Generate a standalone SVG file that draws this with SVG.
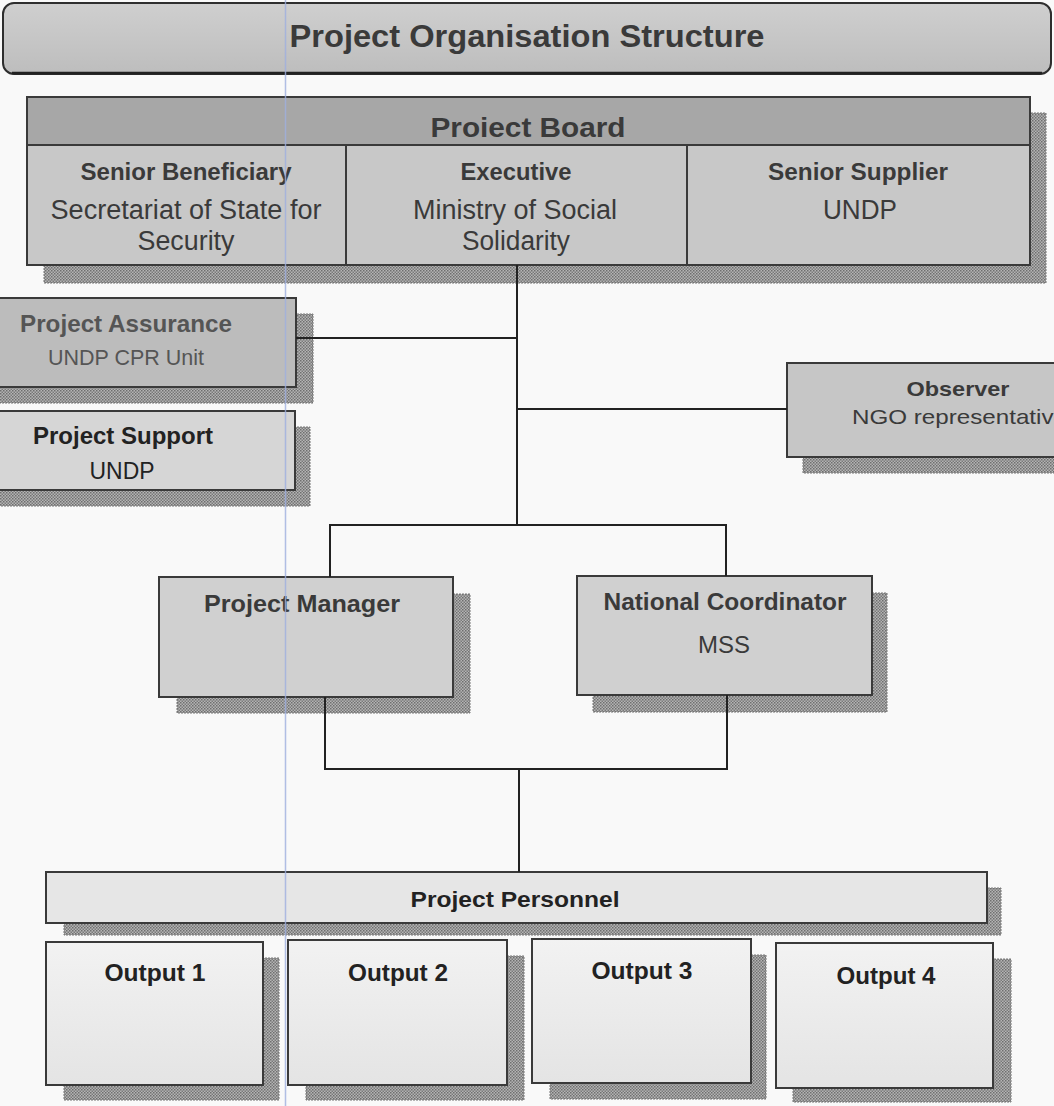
<svg xmlns="http://www.w3.org/2000/svg" width="1054" height="1106" viewBox="0 0 1054 1106">
  <defs>
    <pattern id="dots" width="3" height="3" patternUnits="userSpaceOnUse">
      <rect width="3" height="3" fill="#b4b4b4"/>
      <rect width="1.5" height="1.5" fill="#6e6e6e"/>
      <rect x="1.5" y="1.5" width="1.5" height="1.5" fill="#7a7a7a"/>
    </pattern>
    <linearGradient id="gTitle" x1="0" y1="0" x2="0" y2="1">
      <stop offset="0" stop-color="#cfcfcf"/>
      <stop offset="1" stop-color="#bdbdbd"/>
    </linearGradient>
    <linearGradient id="gOut" x1="0" y1="0" x2="0" y2="1">
      <stop offset="0" stop-color="#f2f2f2"/>
      <stop offset="1" stop-color="#e4e4e4"/>
    </linearGradient>
  </defs>
  <style>
    .t { font-family: "Liberation Sans", Arial, sans-serif; text-anchor: middle; fill: #3a3a3a; }
    .b { font-weight: bold; }
    .shadow { fill: url(#dots); stroke: #777; stroke-width: 1; stroke-dasharray: 2 1; }
    .box { stroke: #3a3a3a; stroke-width: 2; }
    .conn { fill: none; stroke: #222; stroke-width: 2; }
  </style>
  <rect width="1054" height="1106" fill="#f9f9f9"/>

  <g id="title">
    <rect x="3" y="3" width="1048" height="71" rx="11" fill="url(#gTitle)" stroke="#2e2e2e" stroke-width="2"/>
    <line x1="12" y1="73" x2="1042" y2="73" stroke="#222" stroke-width="2.5"/>
    <text class="t b" x="527" y="47" font-size="32" textLength="475" lengthAdjust="spacingAndGlyphs">Project Organisation Structure</text>
  </g>

  <g id="project-board">
    <rect class="shadow" x="44" y="113" width="1002" height="170"/>
    <rect class="box" x="27" y="97" width="1003" height="48" fill="#a7a7a7"/>
    <rect class="box" x="27" y="145" width="1003" height="120" fill="#c8c8c8"/>
    <line x1="346" y1="145" x2="346" y2="265" stroke="#3a3a3a" stroke-width="2"/>
    <line x1="687" y1="145" x2="687" y2="265" stroke="#3a3a3a" stroke-width="2"/>
    <text class="t b" x="528" y="137" font-size="27" textLength="195" lengthAdjust="spacingAndGlyphs">Proiect Board</text>
    <text class="t b" x="186" y="180" font-size="23" textLength="211" lengthAdjust="spacingAndGlyphs">Senior Beneficiary</text>
    <text class="t" x="186" y="219" font-size="27" textLength="271" lengthAdjust="spacingAndGlyphs">Secretariat of State for</text>
    <text class="t" x="186" y="250" font-size="27" textLength="97" lengthAdjust="spacingAndGlyphs">Security</text>
    <text class="t b" x="516" y="180" font-size="23" textLength="111" lengthAdjust="spacingAndGlyphs">Executive</text>
    <text class="t" x="515" y="219" font-size="27" textLength="204" lengthAdjust="spacingAndGlyphs">Ministry of Social</text>
    <text class="t" x="516" y="250" font-size="27" textLength="108" lengthAdjust="spacingAndGlyphs">Solidarity</text>
    <text class="t b" x="858" y="180" font-size="23" textLength="180" lengthAdjust="spacingAndGlyphs">Senior Supplier</text>
    <text class="t" x="860" y="219" font-size="27" textLength="74" lengthAdjust="spacingAndGlyphs">UNDP</text>
  </g>

  <g id="project-assurance">
    <rect class="shadow" x="-30" y="314" width="343" height="89"/>
    <rect class="box" x="-45" y="298" width="341" height="89" fill="#bcbcbc"/>
    <text class="t b" x="126" y="332" font-size="24" style="fill:#555" textLength="212" lengthAdjust="spacingAndGlyphs">Project Assurance</text>
    <text class="t" x="126" y="365" font-size="22" style="fill:#555" textLength="156" lengthAdjust="spacingAndGlyphs">UNDP CPR Unit</text>
  </g>

  <g id="project-support">
    <rect class="shadow" x="-30" y="427" width="340" height="79"/>
    <rect class="box" x="-45" y="411" width="340" height="79" fill="#d6d6d6"/>
    <text class="t b" x="123" y="444" font-size="23" style="fill:#222" textLength="180" lengthAdjust="spacingAndGlyphs">Project Support</text>
    <text class="t" x="122" y="479" font-size="23" style="fill:#222" textLength="65" lengthAdjust="spacingAndGlyphs">UNDP</text>
  </g>

  <g id="observer">
    <rect class="shadow" x="803" y="379" width="280" height="94"/>
    <rect class="box" x="787" y="363" width="280" height="94" fill="#c6c6c6"/>
    <text class="t b" x="958" y="396" font-size="21" textLength="103" lengthAdjust="spacingAndGlyphs">Observer</text>
    <text class="t" x="852" y="424" font-size="21" style="text-anchor:start" textLength="215" lengthAdjust="spacingAndGlyphs">NGO representative</text>
  </g>

  <g id="project-manager">
    <rect class="shadow" x="177" y="594" width="293" height="119"/>
    <rect class="box" x="159" y="577" width="294" height="120" fill="#d0d0d0"/>
    <text class="t b" x="302" y="612" font-size="24" textLength="196" lengthAdjust="spacingAndGlyphs">Project Manager</text>
  </g>

  <g id="national-coordinator">
    <rect class="shadow" x="593" y="593" width="294" height="119"/>
    <rect class="box" x="577" y="576" width="295" height="119" fill="#d0d0d0"/>
    <text class="t b" x="725" y="610" font-size="23" textLength="243" lengthAdjust="spacingAndGlyphs">National Coordinator</text>
    <text class="t" x="724" y="653" font-size="23" textLength="52" lengthAdjust="spacingAndGlyphs">MSS</text>
  </g>

  <g id="project-personnel">
    <rect class="shadow" x="64" y="888" width="937" height="47"/>
    <rect class="box" x="46" y="872" width="941" height="51" fill="#e6e6e6"/>
    <text class="t b" x="515" y="907" font-size="22" style="fill:#222" textLength="209" lengthAdjust="spacingAndGlyphs">Project Personnel</text>
  </g>

  <g id="output-1">
    <rect class="shadow" x="64" y="958" width="215" height="142"/>
    <rect class="box" x="46" y="942" width="217" height="143" fill="url(#gOut)"/>
    <text class="t b" x="155" y="981" font-size="23" style="fill:#222" textLength="101" lengthAdjust="spacingAndGlyphs">Output 1</text>
  </g>
  <g id="output-2">
    <rect class="shadow" x="306" y="956" width="218" height="144"/>
    <rect class="box" x="288" y="940" width="219" height="145" fill="url(#gOut)"/>
    <text class="t b" x="398" y="981" font-size="23" style="fill:#222" textLength="100" lengthAdjust="spacingAndGlyphs">Output 2</text>
  </g>
  <g id="output-3">
    <rect class="shadow" x="550" y="955" width="216" height="144"/>
    <rect class="box" x="532" y="939" width="219" height="144" fill="url(#gOut)"/>
    <text class="t b" x="642" y="979" font-size="23" style="fill:#222" textLength="101" lengthAdjust="spacingAndGlyphs">Output 3</text>
  </g>
  <g id="output-4">
    <rect class="shadow" x="793" y="959" width="218" height="143"/>
    <rect class="box" x="776" y="943" width="217" height="145" fill="url(#gOut)"/>
    <text class="t b" x="886" y="984" font-size="23" style="fill:#222" textLength="99" lengthAdjust="spacingAndGlyphs">Output 4</text>
  </g>

  <g id="connectors">
    <path class="conn" d="M517 265 V525"/>
    <path class="conn" d="M296 338 H517"/>
    <path class="conn" d="M517 409 H787"/>
    <path class="conn" d="M330 577 V525 H726 V576"/>
    <path class="conn" d="M325 697 V769 H727 V695"/>
    <path class="conn" d="M519 769 V872"/>
  </g>

  <line x1="285.5" y1="0" x2="285.5" y2="1106" stroke="#9fb0e0" stroke-width="1.5" opacity="0.8"/>
</svg>
